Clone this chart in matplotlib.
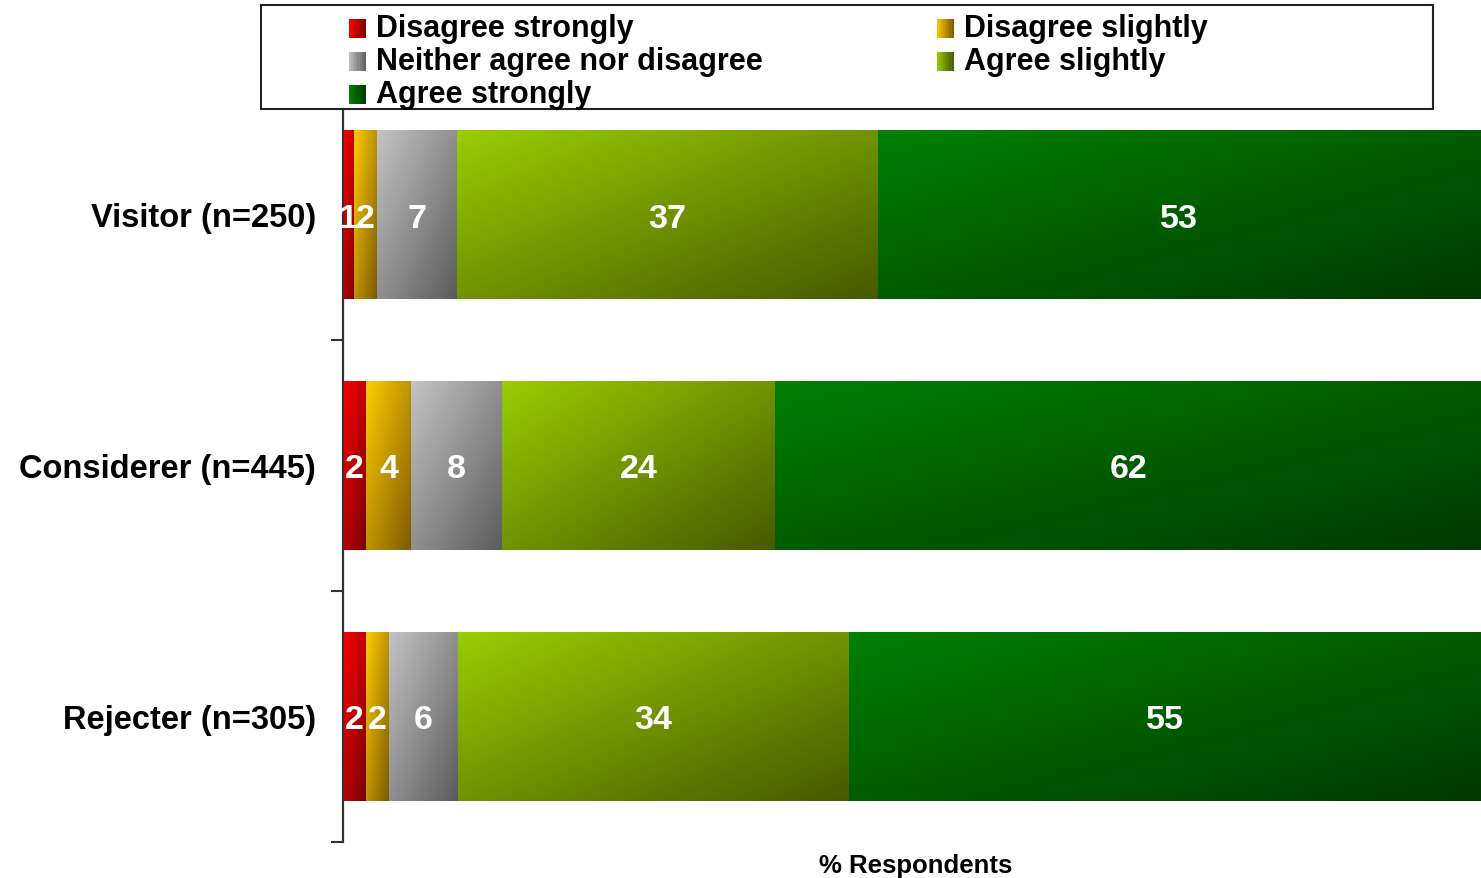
import matplotlib.pyplot as plt
import numpy as np
from matplotlib.patches import Rectangle
from matplotlib.legend_handler import HandlerBase

plt.rcParams['font.family'] = ['Liberation Sans', 'DejaVu Sans']
plt.rcParams['font.weight'] = 'bold'

# data
groups = ["Visitor (n=250)", "Considerer (n=445)", "Rejecter (n=305)"]
answers = ["Disagree strongly", "Disagree slightly", "Neither agree nor disagree",
           "Agree slightly", "Agree strongly"]
disagree_strongly = [1, 2, 2]
disagree_slightly = [2, 4, 2]
neither = [7, 8, 6]
agree_slightly = [37, 24, 34]
agree_strongly = [53, 62, 55]

# gradient colours (top-left -> bottom-right)
grad = [((255, 0, 0), (120, 0, 0)),
        ((255, 204, 0), (125, 90, 0)),
        ((195, 195, 195), (92, 92, 92)),
        ((153, 204, 0), (72, 90, 0)),
        ((0, 128, 0), (0, 58, 0))]


def gradient_img(c0, c1, n=64):
    u = np.linspace(0, 1, n)
    uu, vv = np.meshgrid(u, u)
    t = (0.5 * uu + 0.5 * vv)[..., None]
    a = np.array(c0) / 255
    b = np.array(c1) / 255
    return a * (1 - t) + b * t


class GradHandler(HandlerBase):
    def __init__(self, c0, c1):
        super().__init__()
        self.c0, self.c1 = c0, c1

    def create_artists(self, legend, orig_handle, xd, yd, w, h, fontsize, trans):
        arts = []
        n = 8
        for i in range(n):
            t = (i + 0.5) / n
            col = (np.array(self.c0) * (1 - t) + np.array(self.c1) * t) / 255
            r = Rectangle((xd + w * i / n, yd), w / n + 0.3, h, facecolor=col,
                          edgecolor='none', transform=trans)
            arts.append(r)
        return arts


series = np.array([disagree_strongly, disagree_slightly, neither,
                   agree_slightly, agree_strongly], dtype=float)
pct = series / series.sum(axis=0) * 100

W, H = 1481, 879
fig = plt.figure(figsize=(W / 100, H / 100), dpi=100)
ax = fig.add_axes([343 / W, 1 - 843 / H, (W - 343) / W, (843 - 90) / H])

y = np.arange(len(groups))
left = np.zeros(len(groups))
for k in range(len(answers)):
    bars = ax.barh(y, pct[k], left=left, height=0.67, color='none',
                   edgecolor='none', label=answers[k])
    img = gradient_img(*grad[k])
    for j, p in enumerate(bars.patches):
        x0, y0 = p.get_x(), p.get_y()
        w, h = p.get_width(), p.get_height()
        ax.imshow(img, extent=(x0, x0 + w, y0 + h, y0), origin='upper',
                  aspect='auto', zorder=2, interpolation='bilinear')
        ax.text(x0 + w / 2, y[j], f"{int(series[k][j])}", ha='center',
                va='center_baseline', color='white', fontsize=24.5,
                fontweight='bold', zorder=3)
    left += pct[k]

ax.set_xlim(0, 100)
ax.set_ylim(2.5, -0.5)
ax.set_yticks(y)
ax.set_yticklabels(groups, fontsize=23.5, fontweight='bold')
ax.set_yticks([0.5, 1.5, 2.5], minor=True)
ax.tick_params(axis='y', which='major', length=0, pad=19.5)
ax.tick_params(axis='y', which='minor', length=9, width=1.5, color='#333333',
               direction='out')
ax.set_xticks([])
for s in ['top', 'right', 'bottom']:
    ax.spines[s].set_visible(False)
ax.spines['left'].set_color('#333333')
ax.spines['left'].set_linewidth(1.6)

fig.text(916 / W, 1 - 866 / H, "% Respondents", ha='center', va='center',
         fontsize=18.5, fontweight='bold')

# legend frame
fig.patches.append(Rectangle((261 / W, 1 - 110 / H), (1433 - 261) / W, (110 - 6) / H,
                             transform=fig.transFigure, facecolor='white',
                             edgecolor='#222222', linewidth=1.5, zorder=5))

order = [0, 2, 4, 1, 3]
handles = [Rectangle((0, 0), 1, 1) for _ in order]
hmap = {h: GradHandler(*grad[i]) for h, i in zip(handles, order)}
leg = fig.legend(handles, [answers[i] for i in order], ncol=2,
                 loc='upper left', bbox_to_anchor=(349 / W, 1 - 14 / H),
                 frameon=False, fontsize=22, handler_map=hmap,
                 handlelength=0.55, handleheight=0.55, handletextpad=0.33,
                 columnspacing=5.7, labelspacing=0.1, borderpad=0,
                 borderaxespad=0)
leg.set_zorder(6)
for t in leg.get_texts():
    t.set_fontweight('bold')

fig.savefig("out.png", dpi=100)
